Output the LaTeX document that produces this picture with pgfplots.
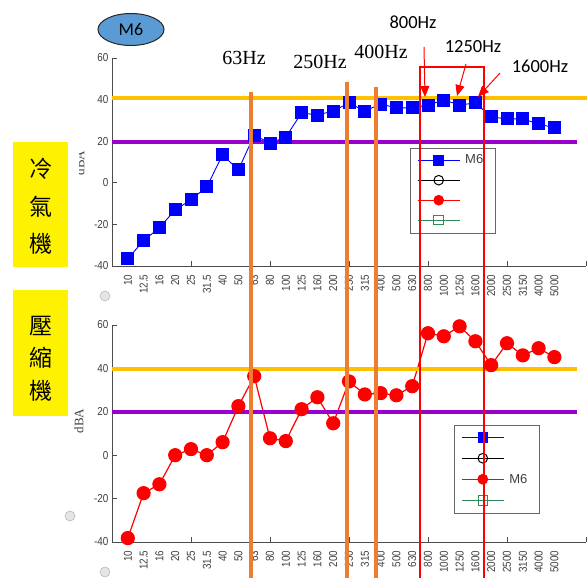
\documentclass[border=0pt]{standalone}
\usepackage{pgfplots}
\pgfplotsset{compat=1.18}
\usepackage{fontspec}
\setmainfont{Liberation Sans}
\newfontfamily\seriffont{Liberation Serif}
\newfontfamily\calfont{Carlito}
\newfontfamily\cjk{Noto Sans CJK TC}
\newfontfamily\narrow[FakeStretch=0.86]{Liberation Sans}
\usetikzlibrary{arrows.meta}
\definecolor{gold}{RGB}{255,192,0}
\definecolor{purp}{RGB}{153,0,204}
\definecolor{orng}{RGB}{237,125,49}
\definecolor{ell}{RGB}{91,155,213}
\definecolor{grn}{RGB}{46,139,87}
\definecolor{tk}{RGB}{64,64,64}
\pgfplotsset{
  myax/.style={
    scale only axis, width=474pt,
    xmin=-1, xmax=29, ymin=-40, ymax=60,
    axis lines*=left,
    axis line style={black!70, line width=0.8pt},
    ytick={-40,-20,...,60},
    xtick={4,9,14,19,24,29}, xticklabels={},
    extra x ticks={0,...,27},
    extra x tick labels={10,12.5,16,20,25,31.5,40,50,63,80,100,125,160,200,250,315,400,500,630,800,1000,1250,1600,2000,2500,3150,4000,5000},
    extra x tick style={major tick length=0pt, tick label style={yshift=-5pt, rotate=90, anchor=east}},
    tick align=inside, major tick length=5pt,
    tick style={black!70, line width=0.8pt},
    tick label style={font=\narrow\fontsize{11.5}{11.5}\selectfont, text=tk},
    /pgf/number format/assume math mode=true,
    clip=false,
    legend cell align=left,
    legend image code/.code={\draw[mark repeat=2,mark phase=2,#1] plot coordinates {(0pt,0pt) (21pt,0pt) (42pt,0pt)};},
    legend image post style={mark size=4.8pt},
    legend style={anchor=north west, draw=none, fill=none, inner sep=0pt,
      font=\fontsize{13}{13}\selectfont, text=tk, row sep=0pt,
      /tikz/every odd column/.append style={column sep=4pt}},
  }
}
\begin{document}
\begin{tikzpicture}
\useasboundingbox (0,0) rectangle (587pt,578pt);
% top axis
\begin{axis}[myax, height=208pt, at={(112pt,312pt)}, anchor=south west,
  legend style={at={(0.6435,0.5577)}, nodes={minimum height=20pt, inner sep=1pt}}]
\addplot[blue, line width=0.9pt, mark=square*, mark size=6pt, mark options={solid}] coordinates {
(0,-36.5) (1,-27.8) (2,-21.6) (3,-13) (4,-8.2) (5,-1.9) (6,13.4) (7,6.2) (8,23) (9,19)
(10,22) (11,33.6) (12,32.6) (13,34.5) (14,38.4) (15,34.5) (16,37.9) (17,36) (18,36) (19,37.4)
(20,39.8) (21,37.4) (22,38.4) (23,31.7) (24,30.7) (25,30.7) (26,28.3) (27,26.4)};
\addlegendentry{M6}
\addlegendimage{black, line width=1pt, mark=o}
\addlegendentry{}
\addlegendimage{red, line width=1pt, mark=*}
\addlegendentry{}
\addlegendimage{grn, line width=1pt, mark=square}
\addlegendentry{}
\addplot[gold, line width=4pt, forget plot] coordinates {(-1,41) (29.1,41)};
\addplot[purp, line width=4pt, forget plot] coordinates {(-1,19.5) (28.4,19.5)};
\end{axis}
% bottom axis
\begin{axis}[myax, height=217pt, at={(112pt,36pt)}, anchor=south west,
  legend style={at={(0.7363,0.532)}, nodes={minimum height=21pt, inner sep=1pt}}]
\addlegendimage{blue, line width=1pt, mark=square*}
\addlegendentry{}
\addlegendimage{black, line width=1pt, mark=o}
\addlegendentry{}
\addplot[red, line width=1.2pt, mark=*, mark size=6.5pt, mark options={solid}] coordinates {
(0,-38.2) (1,-17.5) (2,-13.4) (3,0) (4,2.8) (5,0) (6,6) (7,22.6) (8,36.4) (9,7.8)
(10,6.5) (11,21.2) (12,26.7) (13,14.7) (14,34) (15,28) (16,28.6) (17,27.6) (18,31.8) (19,56.2)
(20,54.8) (21,59.4) (22,52.5) (23,41.5) (24,51.6) (25,46) (26,49.3) (27,45.2)};
\addlegendentry{M6}
\addlegendimage{grn, line width=1pt, mark=square}
\addlegendentry{}
\addplot[gold, line width=4pt, forget plot] coordinates {(-1,39.5) (28.4,39.5)};
\addplot[purp, line width=4pt, forget plot] coordinates {(-1,19.8) (28.4,19.8)};
\end{axis}
% annotations (pixel coordinates, y downward)
\begin{scope}[x=1pt, y=-1pt, shift={(0pt,578pt)}]
\draw[black!60, line width=0.9pt] (410,148) rectangle (495,233);
\draw[black!60, line width=0.9pt] (454,425) rectangle (539,513);
\fill[yellow] (13,142) rectangle (68,267);
\fill[yellow] (13,290) rectangle (68,416);
\node[font=\cjk\fontsize{23}{23}\selectfont] at (41,169) {冷};
\node[font=\cjk\fontsize{23}{23}\selectfont] at (41,207) {氣};
\node[font=\cjk\fontsize{23}{23}\selectfont] at (41,244) {機};
\node[font=\cjk\fontsize{23}{23}\selectfont] at (41,326) {壓};
\node[font=\cjk\fontsize{23}{23}\selectfont] at (41,358) {縮};
\node[font=\cjk\fontsize{23}{23}\selectfont] at (41,391) {機};
\begin{scope}
\clip (79.5,140) rectangle (95,190);
\node[rotate=90, font=\seriffont\fontsize{13}{13}\selectfont, text=tk] at (80,163) {dBA};
\end{scope}
\node[rotate=90, font=\seriffont\fontsize{13}{13}\selectfont, text=tk] at (79,421) {dBA};
\foreach \cx/\cy in {105/296, 70/516, 105/572}{
  \fill[gray!20] (\cx,\cy) circle (5pt);
  \draw[gray!55, line width=0.6pt] (\cx,\cy) circle (5pt);
}
\draw[orng, line width=4pt] (251,92) -- (251,578);
\draw[orng, line width=4pt] (347,82) -- (347,578);
\draw[orng, line width=4pt] (376,87) -- (376,578);
\draw[red, line width=1.5pt] (420,578) -- (420,67) -- (484,67) -- (484,578);
\draw[red, line width=1pt, -{Triangle[length=11pt,width=9pt]}] (424,47) -- (425,97);
\draw[red, line width=1pt, -{Triangle[length=11pt,width=9pt]}] (466,64) -- (457,96);
\draw[red, line width=1pt, -{Triangle[length=11pt,width=9pt]}] (500,73) -- (478,97);
\node[font=\seriffont\fontsize{20}{20}\selectfont] at (244,58) {63Hz};
\node[font=\seriffont\fontsize{20}{20}\selectfont] at (320,62) {250Hz};
\node[font=\seriffont\fontsize{20}{20}\selectfont] at (381,52) {400Hz};
\node[font=\calfont\fontsize{18.5}{18.5}\selectfont] at (413,22) {800Hz};
\node[font=\calfont\fontsize{18.5}{18.5}\selectfont] at (473,47) {1250Hz};
\node[font=\calfont\fontsize{18.5}{18.5}\selectfont] at (540,66) {1600Hz};
\draw[fill=ell, draw=black!85, line width=1pt] (131,29.5) ellipse (33pt and 16pt);
\node[font=\calfont\fontsize{18}{18}\selectfont] at (131,29.5) {M6};
\end{scope}
\end{tikzpicture}
\end{document}
